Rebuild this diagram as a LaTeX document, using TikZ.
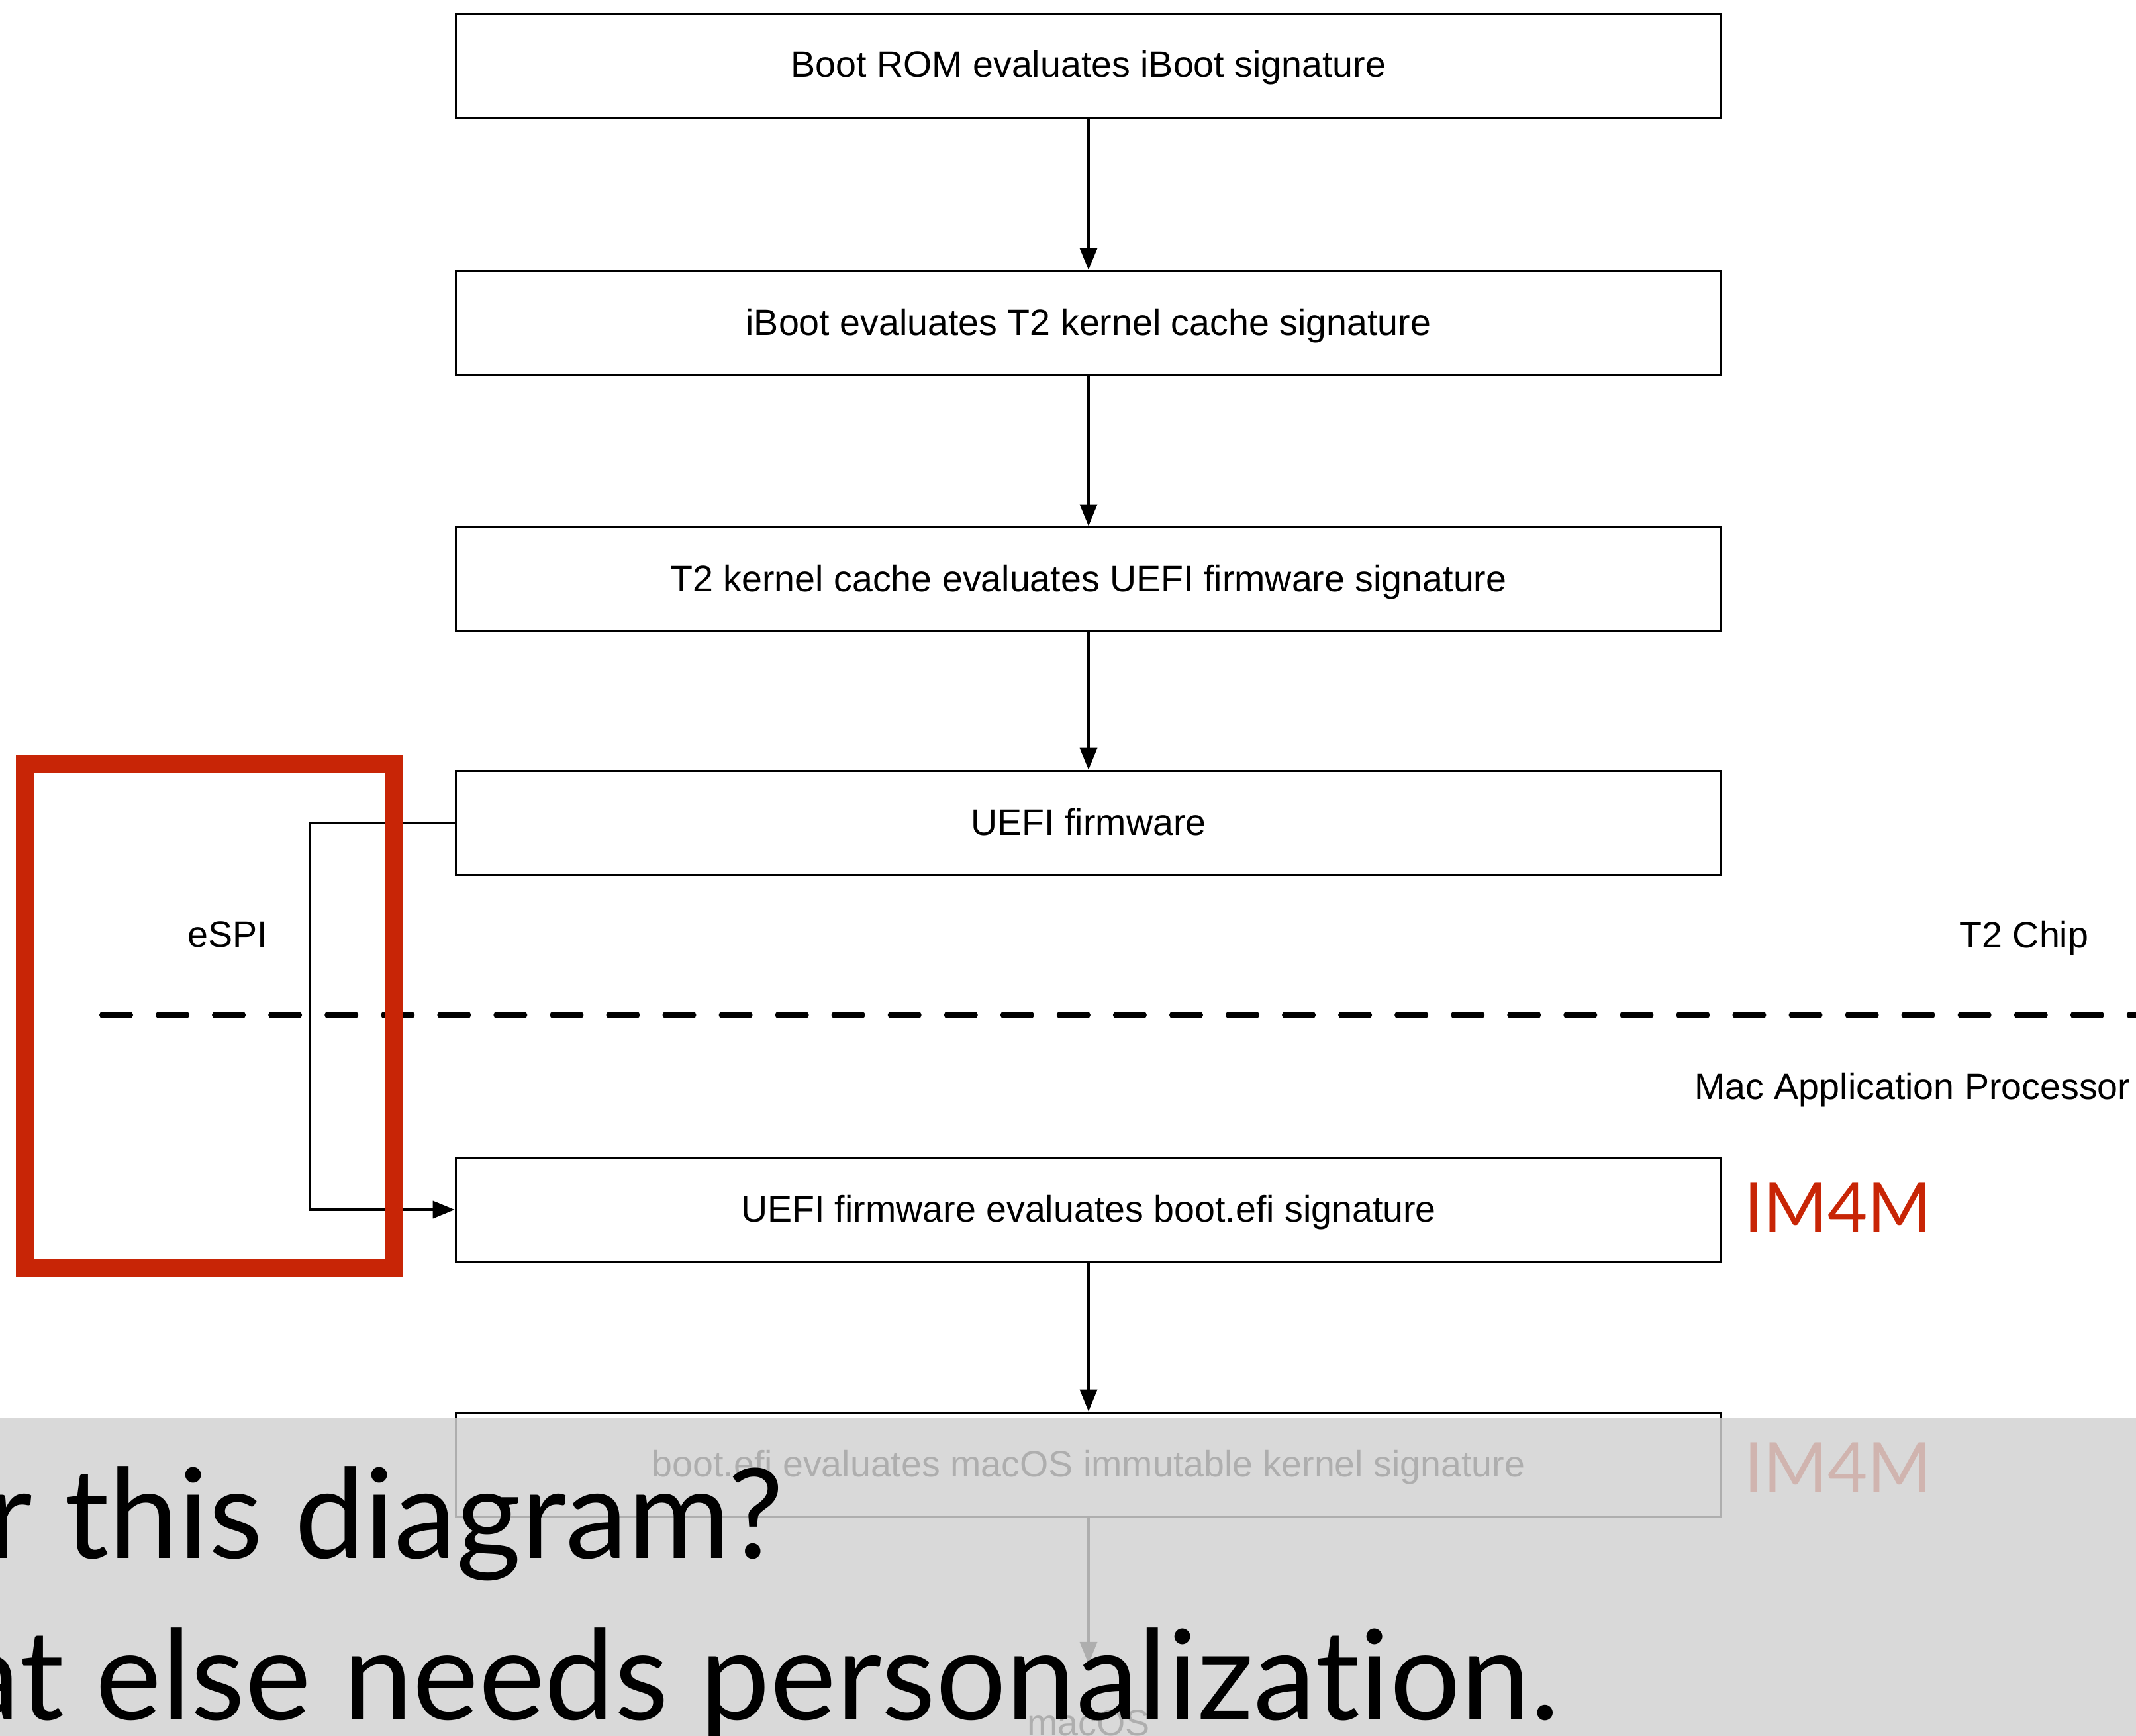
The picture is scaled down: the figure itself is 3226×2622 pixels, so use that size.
\documentclass[tikz,border=0pt]{standalone}
\usepackage{fontspec}
\setmainfont{Liberation Sans}
\newfontfamily\bigfont[Ligatures=NoCommon]{Lato}
\usetikzlibrary{arrows.meta}
\definecolor{keyred}{RGB}{200,37,6}
\definecolor{veil}{RGB}{210,210,210}
\tikzset{
  stepbox/.style={draw=black,line width=0.035cm,minimum width=19.1cm,minimum height=1.57cm,inner sep=0pt,text height=0.44cm,text depth=0.08cm,font=\fontsize{15.8}{19}\selectfont},
  flow/.style={-{Triangle[length=0.33cm,width=0.26cm]},line width=0.035cm},
  lbl/.style={font=\fontsize{15.8}{19}\selectfont,inner sep=0pt},
  imlbl/.style={font=\bigfont\fontsize{29.6}{36}\selectfont,text=keyred,inner sep=0pt,anchor=base west},
  bigq/.style={font=\bigfont\fontsize{53.6}{62}\selectfont,inner sep=0pt,anchor=base east},
  divider/.style={line width=0.1cm,line cap=round,dash pattern=on 0.41cm off 0.44cm},
}
\begin{document}
\begin{tikzpicture}[x=0.01cm,y=-0.01cm]
\useasboundingbox (0,0) rectangle (3226,2622);
\fill[white] (0,0) rectangle (3226,2622);
% boxes
\node[stepbox] (b1) at (1644,99) {Boot ROM evaluates iBoot signature};
\node[stepbox] (b2) at (1644,488) {iBoot evaluates T2 kernel cache signature};
\node[stepbox] (b3) at (1644,875) {T2 kernel cache evaluates UEFI firmware signature};
\node[stepbox] (b4) at (1644,1243) {UEFI firmware};
\node[stepbox] (b5) at (1644,1827) {UEFI firmware evaluates boot.efi signature};
\node[stepbox] (b6) at (1644,2212) {boot.efi evaluates macOS immutable kernel signature};
\node[lbl,anchor=base] (macos) at (1644,2621) {macOS};
\coordinate (macin) at (1644,2513);
% connectors
\draw[flow] (b1.south) -- (b2.north);
\draw[flow] (b2.south) -- (b3.north);
\draw[flow] (b3.south) -- (b4.north);
\draw[flow] (b4.west) -- ++(-218,0) |- (b5.west);
\draw[flow] (b5.south) -- (b6.north);
\draw[flow] (b6.south) -- (macin);
% divider
\coordinate (dl) at (155,1533);
\coordinate (dr) at (3240,1533);
\draw[divider] (dl) -- (dr);
% labels
\node[lbl,anchor=base] (espi) at (344,1431) {eSPI};
\node[lbl,anchor=base] (t2) at (3057,1432) {T2 Chip};
\node[lbl,anchor=base east] (map) at (3218,1660) {Mac Application Processor};
\node[imlbl] (im1) at (2634,1861) {IM4M};
\node[imlbl] (im2) at (2634,2253) {IM4M};
% highlight
\node[draw=keyred,line width=0.27cm,minimum width=5.565cm,minimum height=7.605cm,inner sep=0pt] (focus) at (315.75,1533.75) {};
% overlay
\fill[veil,fill opacity=0.83] (0,2142) rectangle (3226,2622);
\node[bigq] (q1) at (1184,2353) {r this diagram?};
\node[bigq] (q2) at (2356,2597) {at else needs personalization.};
\end{tikzpicture}
\end{document}
